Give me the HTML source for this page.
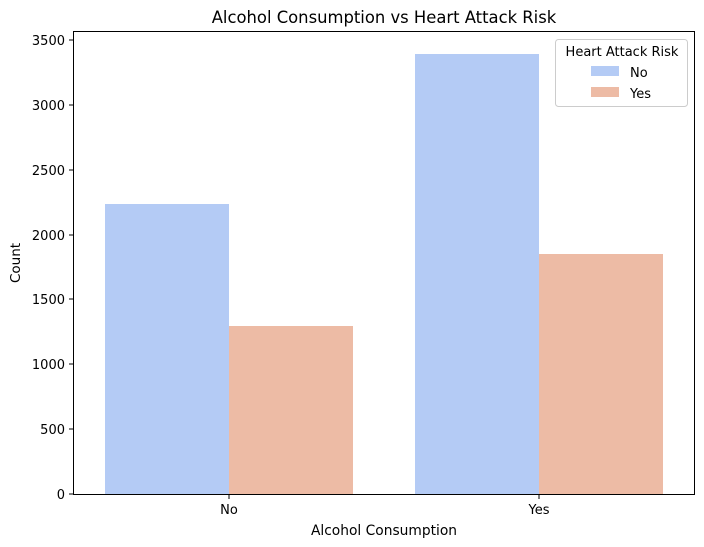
<!DOCTYPE html>
<html><head><style>body{margin:0;background:#fff}svg{display:block}text{font-family:"DejaVu Sans","Liberation Sans",sans-serif;fill:#000}</style></head>
<body>
<svg width="704" height="547" viewBox="0 0 704 547">
<rect width="704" height="547" fill="#fff"/>
<text x="384" y="23" font-size="16.4" text-anchor="middle">Alcohol Consumption vs Heart Attack Risk</text>
<rect x="105" y="204" width="124" height="290" fill="#b4cbf5"/>
<rect x="229" y="326" width="124" height="168" fill="#edbba5"/>
<rect x="415" y="54" width="124" height="440" fill="#b4cbf5"/>
<rect x="539" y="254" width="124" height="240" fill="#edbba5"/>
<rect x="73.5" y="31.5" width="621" height="463" fill="none" stroke="#000" stroke-width="1"/>
<g font-size="13" text-anchor="end">
<line x1="69" x2="73" y1="494" y2="494" stroke="#000"/><text x="65" y="499">0</text>
<line x1="69" x2="73" y1="429" y2="429" stroke="#000"/><text x="65" y="434">500</text>
<line x1="69" x2="73" y1="364" y2="364" stroke="#000"/><text x="65" y="369">1000</text>
<line x1="69" x2="73" y1="299" y2="299" stroke="#000"/><text x="65" y="304">1500</text>
<line x1="69" x2="73" y1="235" y2="235" stroke="#000"/><text x="65" y="240">2000</text>
<line x1="69" x2="73" y1="170" y2="170" stroke="#000"/><text x="65" y="175">2500</text>
<line x1="69" x2="73" y1="105" y2="105" stroke="#000"/><text x="65" y="110">3000</text>
<line x1="69" x2="73" y1="40" y2="40" stroke="#000"/><text x="65" y="45">3500</text>
</g>
<g font-size="13" text-anchor="middle">
<line x1="229" x2="229" y1="494" y2="499" stroke="#000"/><text x="229" y="514">No</text>
<line x1="539" x2="539" y1="494" y2="499" stroke="#000"/><text x="539" y="514">Yes</text>
<text x="384" y="535" font-size="13.8">Alcohol Consumption</text>
</g>
<text x="20" y="263" font-size="13.5" text-anchor="middle" transform="rotate(-90 20 263)">Count</text>
<rect x="555.5" y="39.5" width="132" height="67" rx="3" fill="#fff" stroke="#ccc"/>
<text x="622" y="56" font-size="13" text-anchor="middle">Heart Attack Risk</text>
<rect x="591" y="66" width="28" height="10" fill="#b4cbf5"/>
<text x="630" y="77" font-size="13">No</text>
<rect x="591" y="87" width="28" height="10" fill="#edbba5"/>
<text x="630" y="98" font-size="13">Yes</text>
</svg>
</body></html>
